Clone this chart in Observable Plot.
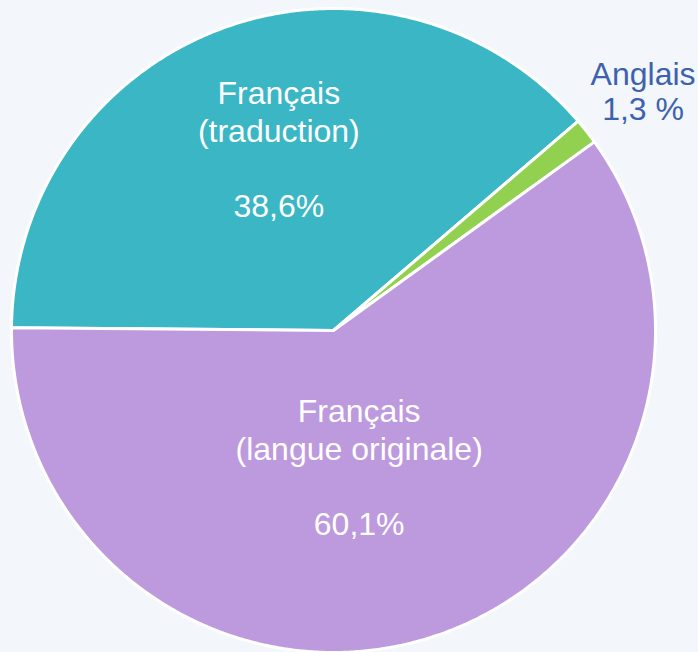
<!DOCTYPE html>
<html>
<head>
<meta charset="utf-8">
<script src="https://cdn.jsdelivr.net/npm/d3@7"></script>
<script src="https://cdn.jsdelivr.net/npm/@observablehq/plot@0.6"></script>
<style>
  html, body { margin: 0; padding: 0; background: #f3f6fa; }
  #chart svg { display: block; }
</style>
</head>
<body>
<div id="chart"></div>
<script>
// ---- data ----
const categories = ["Français (traduction)", "Anglais", "Français (langue originale)"];
const values = [38.6, 1.3, 60.1];
const labels = ["Français\n(traduction)\n\n38,6%", "Anglais\n1,3 %", "Français\n(langue originale)\n\n60,1%"];
const colors = ["#3ab6c5", "#92d14f", "#bd99dd"];

// ---- layout ----
const startAngle = 270.5;                 // degrees, clockwise from north
const labelRadius = [0.59, 1.215, 0.43];  // fraction of pie radius
const labelNudge = [3.3, 0.5, 7];         // degrees added to mid-angle
const labelInside = [true, false, true];

const total = d3.sum(values);
const rad = (deg) => deg * Math.PI / 180;

// build slice outlines from the values
const slicePoints = [];
const labelRows = [];
let a = startAngle;
values.forEach((v, i) => {
  const span = v / total * 360;
  const a0 = a, a1 = a + span;
  slicePoints.push({category: categories[i], x: 0, y: 0});
  const n = Math.max(2, Math.ceil(span / 0.4));
  for (let k = 0; k <= n; k++) {
    const t = rad(a0 + (a1 - a0) * k / n);
    slicePoints.push({category: categories[i], x: Math.sin(t), y: Math.cos(t)});
  }
  const m = rad((a0 + a1) / 2 + labelNudge[i]);
  labelRows.push({
    category: categories[i],
    label: labels[i],
    inside: labelInside[i],
    x: labelRadius[i] * Math.sin(m),
    y: labelRadius[i] * Math.cos(m)
  });
  a = a1;
});

const chart = Plot.plot({
  width: 698,
  height: 652,
  margin: 0,
  style: {background: "#f3f6fa", fontFamily: "'Liberation Sans', Arial, sans-serif"},
  x: {domain: [-333 / 322, 365 / 322], axis: null},
  y: {domain: [-1, 330 / 322], axis: null},
  color: {domain: categories, range: colors},
  marks: [
    Plot.line(slicePoints, {
      x: "x", y: "y", z: "category", fill: "category",
      stroke: "white", strokeWidth: 3, strokeLinejoin: "round",
      curve: "linear-closed"
    }),
    Plot.text(labelRows.filter(d => d.inside), {
      x: "x", y: "y", text: "label", fill: "white",
      fontSize: 32, lineHeight: 1.17, lineAnchor: "middle", textAnchor: "middle"
    }),
    Plot.text(labelRows.filter(d => !d.inside), {
      x: "x", y: "y", text: "label", fill: "#3d62ad",
      fontSize: 32, lineHeight: 1.1, lineAnchor: "middle", textAnchor: "middle"
    })
  ]
});
document.getElementById("chart").appendChild(chart);
</script>
</body>
</html>
